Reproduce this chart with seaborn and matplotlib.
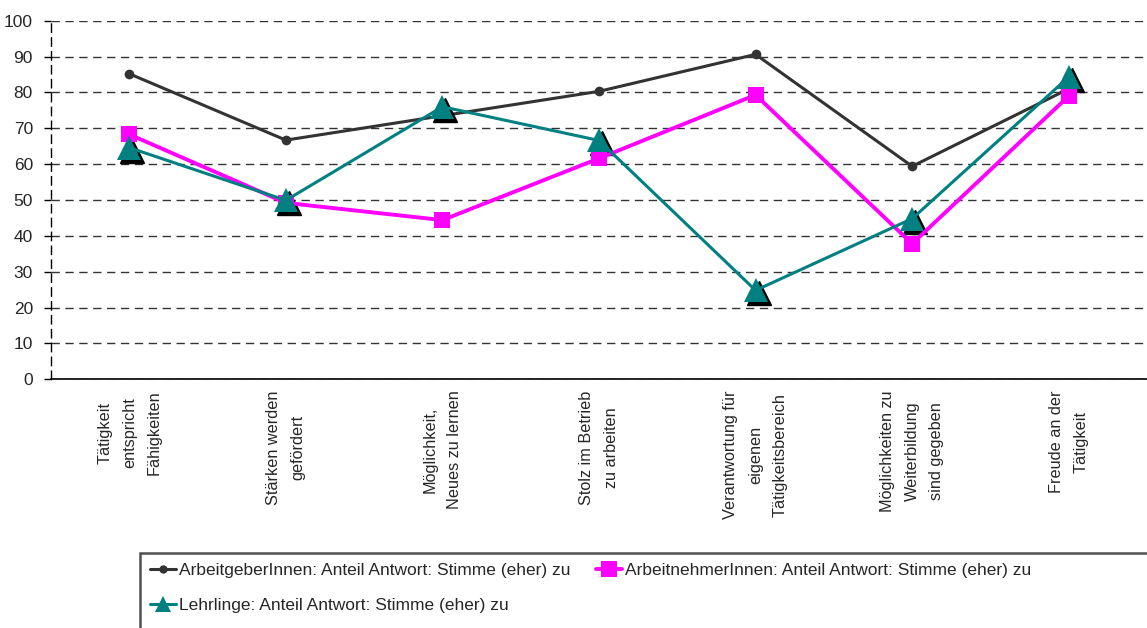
import matplotlib
matplotlib.use('Agg')
import matplotlib.pyplot as plt
import matplotlib.transforms as mtransforms
from matplotlib.patches import Rectangle
import numpy as np
import pandas as pd
import seaborn as sns

# Kategorien (x-Achse)
kategorien = [
    "Tätigkeit\nentspricht\nFähigkeiten",
    "Stärken werden\ngefördert",
    "Möglichkeit,\nNeues zu lernen",
    "Stolz im Betrieb\nzu arbeiten",
    "Verantwortung für\neigenen\nTätigkeitsbereich",
    "Möglichkeiten zu\nWeiterbildung\nsind gegeben",
    "Freude an der\nTätigkeit",
]

# Anteil Antwort "Stimme (eher) zu" in %
arbeitgeber = [85.2, 66.7, 73.5, 80.3, 90.6, 59.4, 81.0]
arbeitnehmer = [68.3, 49.2, 44.4, 61.6, 79.3, 37.8, 79.0]
lehrlinge = [64.6, 49.9, 76.0, 66.6, 24.8, 44.8, 84.3]

serien = [
    "ArbeitgeberInnen: Anteil Antwort: Stimme (eher) zu",
    "ArbeitnehmerInnen: Anteil Antwort: Stimme (eher) zu",
    "Lehrlinge: Anteil Antwort: Stimme (eher) zu",
]
y_ticks = list(range(0, 101, 10))

sns.set_style('white')
plt.rcParams['font.family'] = ['Liberation Sans', 'DejaVu Sans']

fig = plt.figure(figsize=(11.47, 6.28), dpi=100)
ax = fig.add_axes([51 / 1147, 1 - 379.3 / 628, 1 - 51 / 1147, (379.3 - 20.7) / 628])

pos = np.arange(len(kategorien))

# schwarzer Schatten hinter den Dreiecken
shadow = mtransforms.offset_copy(ax.transData, fig=fig, x=3, y=-3, units='dots')
ax.plot(pos, lehrlinge, linestyle='none', marker='^', markersize=17,
        color='black', transform=shadow, zorder=3)

stile = [
    (arbeitgeber, serien[0], '#333333', 'o', 7, 2.2, 2),
    (arbeitnehmer, serien[1], '#FF00FF', 's', 11, 2.8, 4),
    (lehrlinge, serien[2], '#008080', '^', 17, 2.2, 5),
]
for werte, name, farbe, marker, ms, lw, z in stile:
    df = pd.DataFrame({'x': pos, 'y': werte})
    sns.lineplot(data=df, x='x', y='y', ax=ax, color=farbe, marker=marker,
                 markersize=ms, markeredgewidth=0, linewidth=lw, sort=False,
                 label=name, zorder=z)

ax.set_xlim(-0.5, len(kategorien) - 0.5)
ax.set_ylim(0, 100)
ax.set_yticks(y_ticks)
ax.set_yticklabels([str(v) for v in y_ticks], fontsize=12.5)
ax.set_xticks(pos)
ax.set_xticklabels(kategorien, rotation=90, va='top', ha='center',
                   multialignment='center', linespacing=1.8, fontsize=11.7)
ax.set_xticks(np.arange(-0.5, len(kategorien), 1), minor=True)
ax.tick_params(axis='x', which='major', length=0, pad=8)
ax.tick_params(axis='x', which='minor', length=7, width=1, color='black', direction='out')
ax.tick_params(axis='y', length=5, width=1, color='black', direction='out', pad=8, left=True)
ax.set_xlabel('')
ax.set_ylabel('')

ax.yaxis.grid(True, linestyle=(0, (6, 4)), color='#333333', linewidth=1)
ax.xaxis.grid(False)
ax.set_axisbelow(True)

for s in ['top', 'right']:
    ax.spines[s].set_visible(False)
ax.spines['left'].set_linestyle((0, (6, 4)))
ax.spines['left'].set_color('black')
ax.spines['left'].set_linewidth(1)
ax.spines['bottom'].set_color('black')
ax.spines['bottom'].set_linewidth(1.2)

ax.get_legend().remove()

# Legendenrahmen reicht bis über den rechten und unteren Rand hinaus
fig.patches.append(Rectangle((140 / 1147, -0.05), 1.0, 1 - 553 / 628 + 0.05,
                             transform=fig.transFigure, fill=False,
                             edgecolor='#505050', linewidth=1.8))

# Legende: Reihenfolge so, dass Zeile 1 = AG, AN und Zeile 2 = Lehrlinge
handles, labels = ax.get_legend_handles_labels()
ordnung = [0, 2, 1]
leg = fig.legend([handles[i] for i in ordnung], [labels[i] for i in ordnung],
                 loc='upper left', bbox_to_anchor=(143 / 1147, 1 - 556 / 628),
                 ncol=2, fontsize=12.5, frameon=False,
                 handlelength=1.5, handletextpad=0.15, columnspacing=1.5,
                 labelspacing=1.15, borderpad=0.4, borderaxespad=0)
for h, ms in zip(leg.legend_handles, [6, 11, 11]):
    h.set_markersize(ms)

plt.savefig('out.png', dpi=100)
plt.close()
